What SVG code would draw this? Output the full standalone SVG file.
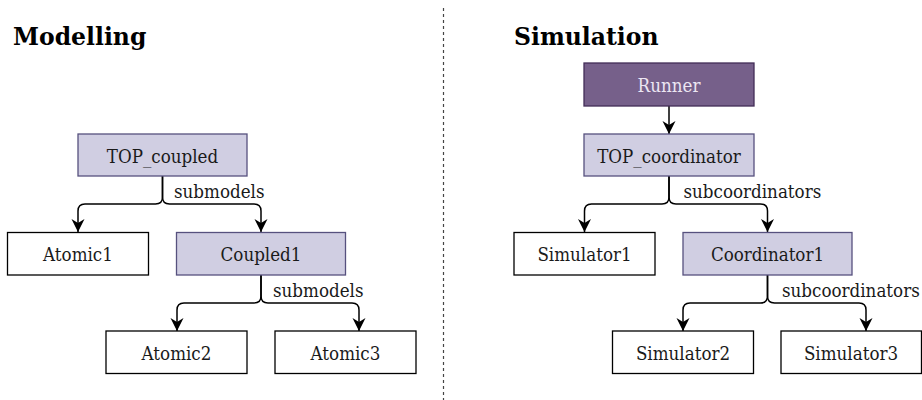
<svg xmlns="http://www.w3.org/2000/svg" width="922" height="400" viewBox="0 0 922 400">
<style>
text{font-family:"DejaVu Serif Condensed","DejaVu Serif",serif;fill:#1a1a1a}
.title{font-family:"DejaVu Serif",serif;font-size:23.5px;font-weight:bold;fill:#000}
.lbl{font-size:18.6px;text-anchor:middle}
.elbl{font-size:18.6px}
.white{fill:#fff;stroke:#000;stroke-width:1.3}
.lav{fill:#d0cee2;stroke:#56517e;stroke-width:1.3}
.dark{fill:#76608a;stroke:#432d57;stroke-width:1.3}
.edge{fill:none;stroke:#000;stroke-width:1.5;marker-end:url(#arr)}
</style>
<defs>
<marker id="arr" markerUnits="userSpaceOnUse" markerWidth="14" markerHeight="14" refX="13" refY="6.5" orient="auto" viewBox="0 0 14 14">
<path d="M0,0 L13,6.5 L0,13 L4,6.5 Z" fill="#000"/>
</marker>
</defs>
<line x1="443.5" y1="8" x2="443.5" y2="400" stroke="#444" stroke-width="1.2" stroke-dasharray="3 3"/>
<text class="title" x="13" y="45">Modelling</text>
<text class="title" x="514" y="45">Simulation</text>

<g id="connectors">
<path class="edge" d="M162.5,176 V197 Q162.5,204 155.5,204 H85 Q78,204 78,211 V232"/>
<path class="edge" d="M162.5,176 V197 Q162.5,204 169.5,204 H254 Q261,204 261,211 V232"/>
<path class="edge" d="M261,275 V296 Q261,303 254,303 H184 Q177,303 177,310 V331"/>
<path class="edge" d="M261,275 V296 Q261,303 268,303 H352 Q359,303 359,310 V331"/>
<path class="edge" d="M669,106 V134"/>
<path class="edge" d="M669,176 V197 Q669,204 662,204 H591.5 Q584.5,204 584.5,211 V232"/>
<path class="edge" d="M669,176 V197 Q669,204 676,204 H760.5 Q767.5,204 767.5,211 V232"/>
<path class="edge" d="M767.5,275 V296 Q767.5,303 760.5,303 H690 Q683,303 683,310 V331"/>
<path class="edge" d="M767.5,275 V296 Q767.5,303 774.5,303 H859 Q866,303 866,310 V331"/>
<text class="elbl" x="174" y="197.5">submodels</text>
<text class="elbl" x="273" y="297">submodels</text>
<text class="elbl" x="683.5" y="197.5">subcoordinators</text>
<text class="elbl" x="782" y="297">subcoordinators</text>
</g>

<g id="top_coupled"><rect class="lav" x="78" y="134" width="169" height="42"/><text class="lbl" x="162.5" y="162.5">TOP_coupled</text></g>
<g id="atomic1"><rect class="white" x="7.5" y="232.5" width="141" height="42.5"/><text class="lbl" x="78" y="261">Atomic1</text></g>
<g id="coupled1"><rect class="lav" x="176.5" y="232.5" width="169" height="42.5"/><text class="lbl" x="261" y="261">Coupled1</text></g>
<g id="atomic2"><rect class="white" x="106" y="331" width="141" height="42.5"/><text class="lbl" x="176.5" y="359.5">Atomic2</text></g>
<g id="atomic3"><rect class="white" x="275" y="331" width="141" height="42.5"/><text class="lbl" x="345.5" y="359.5">Atomic3</text></g>

<g id="runner"><rect class="dark" x="584" y="63" width="170" height="43"/><text class="lbl" x="669" y="91.5" style="fill:#ece6f2">Runner</text></g>
<g id="top_coordinator"><rect class="lav" x="584" y="134" width="170" height="42"/><text class="lbl" x="669" y="162.5">TOP_coordinator</text></g>
<g id="simulator1"><rect class="white" x="514" y="232.5" width="141" height="42.5"/><text class="lbl" x="584.5" y="261">Simulator1</text></g>
<g id="coordinator1"><rect class="lav" x="683" y="232.5" width="169" height="42.5"/><text class="lbl" x="767.5" y="261">Coordinator1</text></g>
<g id="simulator2"><rect class="white" x="612.5" y="331" width="141" height="42.5"/><text class="lbl" x="683" y="359.5">Simulator2</text></g>
<g id="simulator3"><rect class="white" x="781" y="331" width="140.5" height="42.5"/><text class="lbl" x="851" y="359.5">Simulator3</text></g>
</svg>
